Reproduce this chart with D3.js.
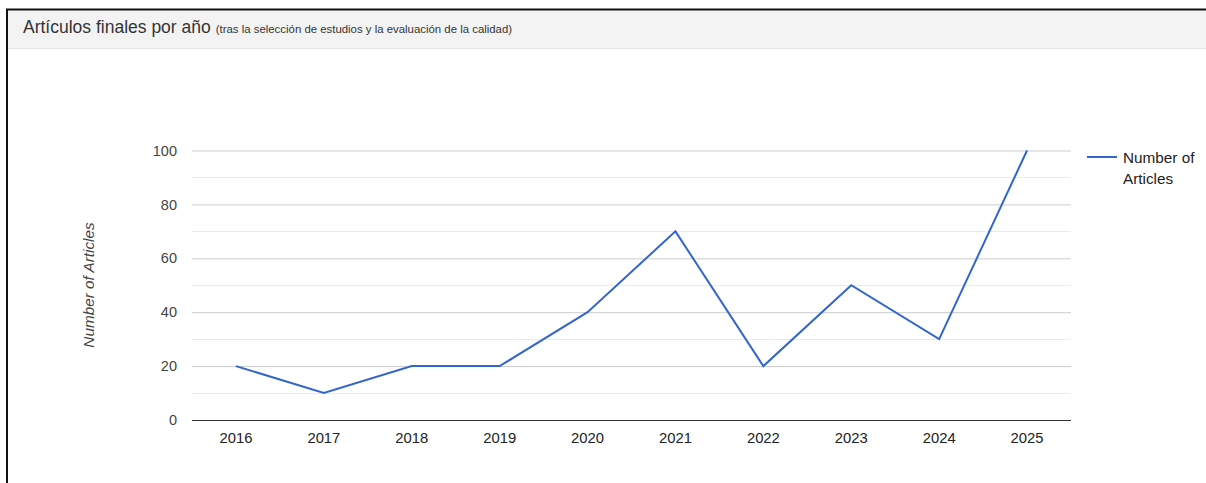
<!DOCTYPE html>
<html>
<head>
<meta charset="utf-8">
<script src="https://cdn.jsdelivr.net/npm/d3@7"></script>
<style>
  body { margin: 0; background: #fff; }
  svg { display: block; font-family: "Liberation Sans", Arial, sans-serif; }
</style>
</head>
<body>
<div id="chart"></div>
<script>
const years = ['2016', '2017', '2018', '2019', '2020', '2021', '2022', '2023', '2024', '2025'];
const articles = [20, 10, 20, 20, 40, 70, 20, 50, 30, 100];
const yTicks = [0, 20, 40, 60, 80, 100];
const minorTicks = [10, 30, 50, 70, 90];

const W = 1206, H = 483;
const plot = {left: 192, right: 1071, top: 150.5, bottom: 420};

const svg = d3.select('#chart').append('svg')
    .attr('width', W)
    .attr('height', H);

// panel header
svg.append('rect')
    .attr('x', 7).attr('y', 10)
    .attr('width', W - 7).attr('height', 38)
    .attr('fill', '#f3f3f3');
svg.append('line')
    .attr('x1', 7).attr('x2', W)
    .attr('y1', 48.5).attr('y2', 48.5)
    .attr('stroke', '#e2e2e2');
// frame
svg.append('line')
    .attr('x1', 6).attr('x2', W)
    .attr('y1', 9.5).attr('y2', 9.5)
    .attr('stroke', '#111').attr('stroke-width', 2);
svg.append('line')
    .attr('x1', 7).attr('x2', 7)
    .attr('y1', 9).attr('y2', H)
    .attr('stroke', '#111').attr('stroke-width', 2);

const title = svg.append('text')
    .attr('x', 23).attr('y', 33)
    .attr('fill', '#333');
title.append('tspan')
    .attr('font-size', 17.5)
    .text('Artículos finales por año');
title.append('tspan')
    .attr('font-size', 11.4)
    .attr('dx', 5)
    .text('(tras la selección de estudios y la evaluación de la calidad)');

const x = d3.scaleBand()
    .domain(years)
    .range([plot.left, plot.right]);

const y = d3.scaleLinear()
    .domain([0, 100])
    .range([plot.bottom, plot.top]);

// minor gridlines
svg.append('g')
    .selectAll('line')
    .data(minorTicks)
    .join('line')
    .attr('x1', plot.left).attr('x2', plot.right)
    .attr('y1', d => Math.round(y(d)) + 0.5)
    .attr('y2', d => Math.round(y(d)) + 0.5)
    .attr('stroke', '#ebebeb');

// y axis with major gridlines
const yAxis = svg.append('g')
    .attr('transform', `translate(${plot.left},0)`)
    .call(d3.axisLeft(y)
        .tickValues(yTicks)
        .tickSize(-(plot.right - plot.left))
        .tickPadding(15));
yAxis.select('.domain').remove();
yAxis.selectAll('.tick line')
    .attr('stroke', d => d === 0 ? '#333' : '#cccccc');
yAxis.selectAll('.tick text')
    .attr('font-size', 14.5)
    .attr('fill', '#444')
    .attr('font-family', '"Liberation Sans", Arial, sans-serif');

// x axis
const xAxis = svg.append('g')
    .attr('transform', `translate(0,${plot.bottom})`)
    .call(d3.axisBottom(x).tickSize(0).tickPadding(12));
xAxis.select('.domain').remove();
xAxis.selectAll('.tick text')
    .attr('font-size', 14.8)
    .attr('fill', '#222')
    .attr('font-family', '"Liberation Sans", Arial, sans-serif');

svg.append('line')
    .attr('x1', plot.left).attr('x2', plot.right)
    .attr('y1', plot.bottom + 0.5).attr('y2', plot.bottom + 0.5)
    .attr('stroke', '#333');

// y label
svg.append('text')
    .attr('transform', 'translate(94,285) rotate(-90)')
    .attr('text-anchor', 'middle')
    .attr('font-size', 15.3)
    .attr('font-style', 'italic')
    .attr('fill', '#444')
    .text('Number of Articles');

// series
const line = d3.line()
    .x((d, i) => x(years[i]) + x.bandwidth() / 2)
    .y(d => y(d));

svg.append('path')
    .datum(articles)
    .attr('d', line)
    .attr('fill', 'none')
    .attr('stroke', '#3366cc')
    .attr('stroke-width', 2);

// legend
const legend = svg.append('g').attr('transform', 'translate(1087,157)');
legend.append('line')
    .attr('x1', 0).attr('x2', 30)
    .attr('stroke', '#3366cc').attr('stroke-width', 2);
legend.append('text')
    .attr('x', 36).attr('y', 5.5)
    .attr('font-size', 15.3)
    .attr('fill', '#222')
    .text('Number of');
legend.append('text')
    .attr('x', 36).attr('y', 26.5)
    .attr('font-size', 15.3)
    .attr('fill', '#222')
    .text('Articles');
</script>
</body>
</html>
